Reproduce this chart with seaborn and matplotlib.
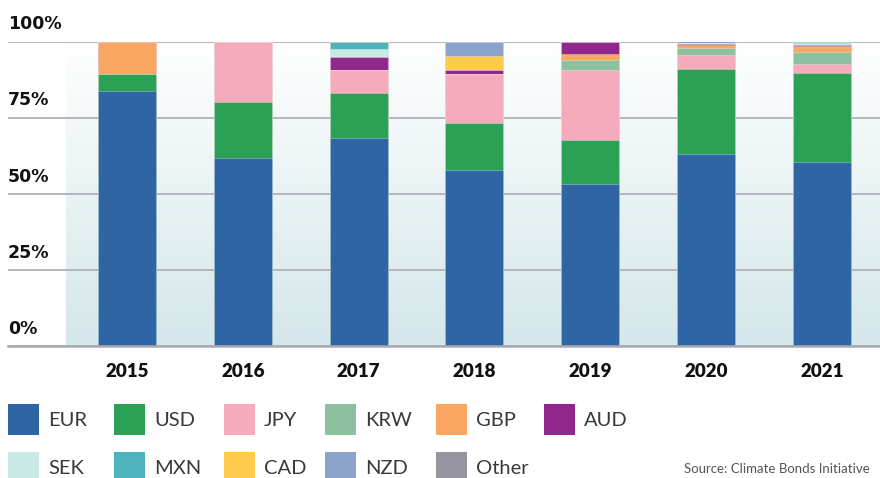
import numpy as np
import pandas as pd
import seaborn as sns
import matplotlib.pyplot as plt
from matplotlib.patches import Rectangle
from matplotlib.colors import to_rgb

sns.set_theme(style="white")
plt.rcParams['font.family'] = ['Lato', 'DejaVu Sans']

# ---------------- data ----------------
years = ['2015', '2016', '2017', '2018', '2019', '2020', '2021']
eur = [83.6, 61.8, 68.2, 57.8, 53.3, 63.1, 60.3]
usd = [5.7, 18.4, 14.9, 15.4, 14.5, 27.9, 29.4]
jpy = [0.0, 19.8, 7.6, 16.1, 22.7, 4.6, 3.0]
krw = [0.0, 0.0, 0.0, 0.0, 3.5, 2.4, 3.9]
gbp = [10.7, 0.0, 0.0, 0.0, 1.8, 0.7, 1.8]
aud = [0.0, 0.0, 4.2, 1.3, 4.2, 0.5, 0.6]
sek = [0.0, 0.0, 2.6, 0.0, 0.0, 0.4, 0.4]
mxn = [0.0, 0.0, 2.5, 0.0, 0.0, 0.0, 0.6]
cad = [0.0, 0.0, 0.0, 4.6, 0.0, 0.0, 0.0]
nzd = [0.0, 0.0, 0.0, 4.8, 0.0, 0.4, 0.0]
other = [0.0, 0.0, 0.0, 0.0, 0.0, 0.0, 0.0]

currencies = ['EUR', 'USD', 'JPY', 'KRW', 'GBP', 'AUD', 'SEK', 'MXN', 'CAD', 'NZD', 'Other']
series = [eur, usd, jpy, krw, gbp, aud, sek, mxn, cad, nzd, other]
colors = ['#2f65a5', '#2aa155', '#f5abbb', '#8dc09e', '#f9a762', '#91278b',
          '#c9e9e5', '#4fb3be', '#fecb4e', '#8ca3cb', '#96959f']
ytick_vals = [0, 25, 50, 75, 100]
ytick_labels = ['0%', '25%', '50%', '75%', '100%']
source = 'Source: Climate Bonds Initiative'

# ---------------- figure ----------------
W, H = 880, 478
fig = plt.figure(figsize=(W / 100, H / 100), dpi=100)
ax = fig.add_axes([8 / W, 1 - 346 / H, 872 / W, (346 - 41.5) / H])

df = pd.DataFrame(dict(zip(currencies, series)), index=years)
cum = df.cumsum(axis=1)

# draw cumulative layers from the top down so each one covers the next
for cur, col in reversed(list(zip(currencies, colors))):
    sns.barplot(x=years, y=cum[cur].values, order=years, color=col,
                width=0.5, errorbar=None, saturation=1, ax=ax,
                edgecolor=(1, 1, 1, 0.35), linewidth=0.6)

step = 115.8
x_left = (8 - 127) / step
x_right = (880 - 127) / step
grad_left = (66 - 127) / step

# gradient background
top = np.array(to_rgb('#ffffff'))
bot = np.array(to_rgb('#d4e7ea'))
t = np.linspace(0, 1, 256)[:, None]
grad = (top * (1 - t) + bot * t)[:, None, :]
ax.imshow(grad, extent=[grad_left, x_right, 0, 100], aspect='auto',
          zorder=0.1, origin='upper', interpolation='bilinear')

ax.set_xlim(x_left, x_right)
ax.set_ylim(0, 100)
ax.set_xlabel('')
ax.set_ylabel('')

ax.set_axisbelow(True)
ax.set_yticks(ytick_vals)
ax.set_yticklabels([])
ax.yaxis.grid(True, color='#b5b5bd', linewidth=1.4)
ax.xaxis.grid(False)
for s in ['top', 'right', 'left']:
    ax.spines[s].set_visible(False)
ax.spines['bottom'].set_color('#a9a9b1')
ax.spines['bottom'].set_linewidth(1.8)
ax.tick_params(axis='both', length=0)
ax.tick_params(axis='x', pad=12)
for lab in ax.get_xticklabels():
    lab.set_fontweight('heavy')
    lab.set_fontsize(13.5)
    lab.set_color('#111111')

for v, lab in zip(ytick_vals, ytick_labels):
    ax.annotate(lab, xy=(0, v), xycoords=('axes fraction', 'data'),
                xytext=(0, 8.8), textcoords='offset points',
                ha='left', va='baseline', fontsize=12.5, fontweight='bold',
                family='DejaVu Sans', color='#111111', annotation_clip=False)

# ---------------- legend ----------------
col_x = [8, 114, 224, 325, 436, 544]
row_y = [404, 452]
for i, (cur, col) in enumerate(zip(currencies, colors)):
    r, c = divmod(i, 6)
    x0, y0 = col_x[c], row_y[r]
    fig.add_artist(Rectangle((x0 / W, 1 - (y0 + 31) / H), 31 / W, 31 / H,
                             transform=fig.transFigure, facecolor=col,
                             edgecolor='none'))
    fig.text((x0 + 40) / W, 1 - (y0 + 16.5) / H, cur, ha='left', va='center',
             fontsize=14.5, fontweight='normal', color='#3a3a3a')

fig.text(870 / W, 1 - 475 / H, source, ha='right', va='bottom', fontsize=9.5,
         fontweight='normal', color='#555555')

fig.savefig('out.png', dpi=100)
